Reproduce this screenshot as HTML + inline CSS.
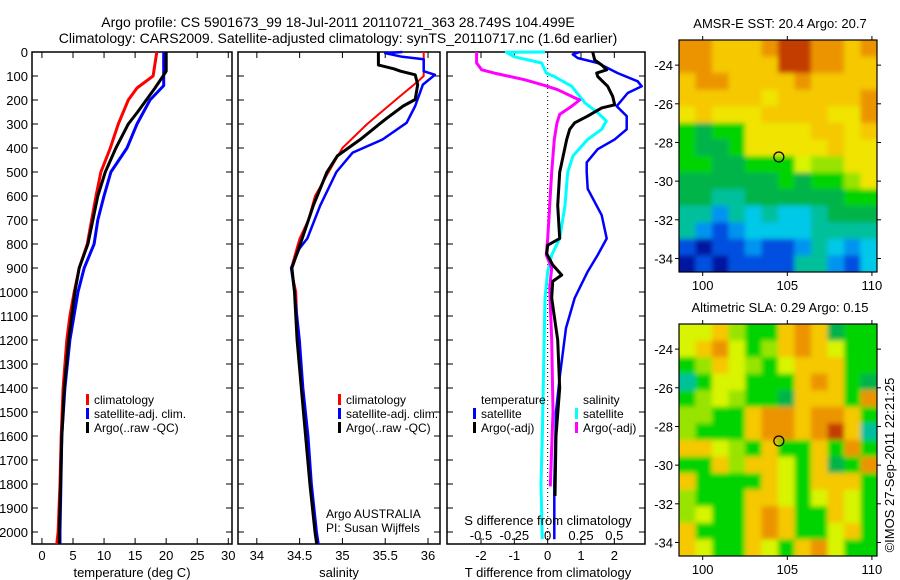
<!DOCTYPE html>
<html><head><meta charset="utf-8">
<style>
html,body{margin:0;padding:0;background:#fff;}
svg{display:block;font-family:"Liberation Sans",sans-serif;}
text{fill:#000;}
</style></head>
<body>
<svg id="chart" width="900" height="580" viewBox="0 0 900 580" xmlns="http://www.w3.org/2000/svg">
<defs>
<filter id="soft" x="-5%" y="-5%" width="110%" height="110%"><feGaussianBlur stdDeviation="2.5"/></filter>
<clipPath id="clipTop"><rect x="679" y="40" width="198" height="232"/></clipPath>
<clipPath id="clipBot"><rect x="679" y="324" width="198" height="232"/></clipPath>
</defs>
<text x="338" y="27" font-size="14" text-anchor="middle">Argo profile: CS 5901673_99 18-Jul-2011 20110721_363 28.749S 104.499E</text>
<text x="338" y="43" font-size="14" text-anchor="middle">Climatology: CARS2009. Satellite-adjusted climatology: synTS_20110717.nc (1.6d earlier)</text>
<g id="g"></g>
</svg>
<script>
// ---------- data ----------
const depthTicks = [0,100,200,300,400,500,600,700,800,900,1000,1100,1200,1300,1400,1500,1600,1700,1800,1900,2000];
const tempTicks = [0,5,10,15,20,25,30];
const salTicks = [34,34.5,35,35.5,36];
const tdiffTicks = [-2,-1,0,1,2];
const sdiffTicks = [-0.5,-0.25,0,0.25,0.5];

const tClimDepth = [0,100,150,200,300,400,500,600,700,800,900,1000,1100,1200,1400,1600,1800,2000,2050];
const tClimVal   = [18.5,17.9,15.3,13.9,12.3,11,9.5,8.7,8,7.3,6,5.2,4.5,4,3.4,3.1,2.9,2.6,2.4];
const tSatDepth  = [0,140,200,300,400,500,600,700,800,900,1000,1200,1400,1600,1800,2000,2050];
const tSatVal    = [19.6,19.6,17.4,15.3,13.7,11.1,10,9,8.4,6.8,5.8,4.5,3.7,3.2,3.05,2.9,2.9];
const tArgoDepth = [0,80,100,150,200,250,300,400,500,600,700,800,900,1000,1200,1400,1600,1800,2000,2050];
const tArgoVal   = [20,20,19.5,18.2,16.8,15.4,13.9,11.9,10.2,9,8.2,7.4,6,5.3,4.3,3.6,3.2,3,2.8,2.8];

const sClimDepth = [0,100,120,200,300,400,500,600,700,777,800,900,1000,1200,1400,1600,1800,2000,2050];
const sClimVal   = [35.95,35.95,35.89,35.62,35.29,35,34.84,34.68,34.6,34.5,34.48,34.4,34.46,34.48,34.53,34.57,34.62,34.68,34.7];
const sSatDepth  = [0,5,20,30,80,95,136,225,295,364,419,500,640,777,818,900,1000,1200,1400,1600,1800,2000,2050];
const sSatVal    = [35.7,35.5,35.7,35.95,35.95,36.08,35.94,35.85,35.75,35.47,35.12,34.93,34.74,34.59,34.5,34.4,34.44,34.5,34.54,34.6,34.64,34.7,34.72];
const sArgoDepth = [0,54,70,80,95,136,198,225,281,364,433,500,640,777,900,1000,1200,1400,1600,1800,2000,2050];
const sArgoVal   = [35.42,35.42,35.6,35.68,35.85,35.88,35.85,35.71,35.5,35.21,34.94,34.82,34.66,34.53,34.41,34.44,34.47,34.52,34.57,34.62,34.68,34.7];

const dTSatDepth = [0,10,25,46,88,122,143,171,226,267,322,364,405,460,501,570,680,777,846,915,1025,1150,1355,1500,1800,2000,2030];
const dTSatVal   = [0.96,0.75,0.9,1.5,2.1,2.7,2.82,2.4,2.07,2.37,2.37,2.01,1.5,1.17,1.17,1.2,1.62,1.77,1.5,1.2,0.81,0.55,0.36,0.25,0.2,0.2,0.2];
const dTArgoDepth = [0,33,54,74,88,102,143,185,220,233,267,295,322,364,501,639,777,805,840,887,929,956,1025,1200,1400,1600,1850];
const dTArgoVal   = [1.35,1.41,1.62,1.77,1.47,1.5,1.8,1.95,2.01,1.62,1.2,0.81,0.66,0.57,0.36,0.3,0.36,0,-0.03,0.15,0.42,0.15,0.12,0.3,0.36,0.25,0.22];
const dSSatDepth = [0,1,20,46,88,102,143,212,253,288,322,364,433,501,639,777,846,915,1025,1300,1600,1800,2030];
const dSSatVal   = [-0.02,-0.31,-0.25,-0.045,-0.01,0.05,0.18,0.28,0.375,0.44,0.405,0.3,0.19,0.15,0.13,0.09,0.03,0,-0.02,-0.03,-0.04,-0.05,-0.04];
const dSArgoDepth = [0,46,74,88,116,140,157,190,200,226,260,295,364,500,639,777,846,900,983,1200,1500,1810];
const dSArgoVal   = [-0.533,-0.533,-0.495,-0.4,-0.17,-0.02,0.075,0.2,0.24,0.18,0.09,0.07,0.05,0.03,0.015,0,-0.01,0.03,0.015,0.03,0.04,0.02];

const mapLonTicks = [100,105,110];
const mapLatTicks = [-24,-26,-28,-30,-32,-34];
const sstRows = [
"OOYYYORROOYO","OOYYYYRROOYY","YOOYYYYOYYYY","YYYYYyYYYYYO","yYyyyYYYYyyO",
"GgGGyyyyYYyY","GggGyyyyyYyy","GGggGGGLllyy","ggggggGgGGly","ggTTggggggGG",
"TTBTCTCCTggg","TBbBCCCCTTTT","bNbbBbbBTCBC","NbNbbbbTTBbC"];
const slaRows = [
"LLYlGGYOYgGG","LYOLGlYOYLGG","GlYLlGLYYYGG","TGLLGGGYOYGg","GlLlGGgYYYGO",
"llGGYOOYOOYG","lGGGYOOYORYT","YYLlGYGGYGOG","GGYlYYLGYgGO","YGGGGYLGYYYG",
"lGGGYYLGLYLG","lLGGYOYGGYLG","YGGGYOYGGLYG","YLGGYLGYOLGG"];
const argoLon = 104.5, argoLat = -28.75;

// ---------- drawing ----------
const NS="http://www.w3.org/2000/svg";
const G=document.getElementById('g');
function el(tag,attrs,parent){const e=document.createElementNS(NS,tag);for(const k in attrs)e.setAttribute(k,attrs[k]);(parent||G).appendChild(e);return e;}
function txt(s,attrs,parent){const e=el('text',attrs,parent);e.textContent=s;return e;}

const TOP=52, BOT=544, DMAX=2050;
const yD = d => TOP + d*(BOT-TOP)/DMAX;
const panels=[
 {name:'temperature-panel',x0:32,x1:232,vmin:-1.6,vmax:30.6},
 {name:'salinity-panel',x0:238,x1:440,vmin:33.78,vmax:36.14},
 {name:'difference-panel',x0:447,x1:645,vmin:-3.02,vmax:2.92}
];
function xf(p){return v=>p.x0+(v-p.vmin)*(p.x1-p.x0)/(p.vmax-p.vmin);}
const xT=xf(panels[0]), xS=xf(panels[1]), xTd=xf(panels[2]);
const xSd = v => xTd(v*4);

panels.forEach(p=>{
  const r=el('rect',{x:p.x0,y:TOP,width:p.x1-p.x0,height:BOT-TOP,fill:'none',stroke:'#000','stroke-width':1.5});
  
  
  depthTicks.forEach(d=>{
    el('line',{x1:p.x0,x2:p.x0+6,y1:yD(d),y2:yD(d),stroke:'#000'});
    el('line',{x1:p.x1,x2:p.x1-6,y1:yD(d),y2:yD(d),stroke:'#000'});
  });
});
depthTicks.forEach(d=>{
  const t=txt(String(d),{x:28,y:yD(d)+5,'font-size':13,'text-anchor':'end'});
  
  
});
function xticks(vals,fx,labelY,fmt){
  vals.forEach(v=>{
    const x=fx(v);
    el('line',{x1:x,x2:x,y1:TOP,y2:TOP+6,stroke:'#000'});
    el('line',{x1:x,x2:x,y1:BOT,y2:BOT-6,stroke:'#000'});
    const t=txt(fmt?fmt(v):String(v),{x:x,y:labelY,'font-size':13,'text-anchor':'middle'});
    
    
  });
}
xticks(tempTicks,xT,560);
xticks(salTicks,xS,560);
xticks(tdiffTicks,xTd,560);
sdiffTicks.forEach(v=>{
  const t=txt(String(v),{x:xSd(v),y:540,'font-size':13,'text-anchor':'middle'});
  
  
});
const zl=el('line',{x1:xTd(0),x2:xTd(0),y1:TOP,y2:BOT,stroke:'#000','stroke-dasharray':'1,3'});



function series(depths,vals,fx,color,w,name){
  const pts=depths.map((d,i)=>fx(vals[i]).toFixed(1)+','+yD(d).toFixed(1)).join(' ');
  const pl=el('polyline',{points:pts,fill:'none',stroke:color,'stroke-width':w,'stroke-linejoin':'round'});
  
  
}
series(tClimDepth,tClimVal,xT,'#ff0000',3,'temperature-climatology-line');
series(tSatDepth,tSatVal,xT,'#0000ff',3,'temperature-satellite-line');
series(tArgoDepth,tArgoVal,xT,'#000000',3,'temperature-argo-line');
series(sClimDepth,sClimVal,xS,'#ff0000',2,'salinity-climatology-line');
series(sSatDepth,sSatVal,xS,'#0000ff',2.5,'salinity-satellite-line');
series(sArgoDepth,sArgoVal,xS,'#000000',3,'salinity-argo-line');
series(dTSatDepth,dTSatVal,xTd,'#0000ff',2.5,'t-diff-satellite-line');
series(dSSatDepth,dSSatVal,xSd,'#00ffff',3,'s-diff-satellite-line');
series(dSArgoDepth,dSArgoVal,xSd,'#ff00ff',3,'s-diff-argo-line');
series(dTArgoDepth,dTArgoVal,xTd,'#000000',3,'t-diff-argo-line');

function legend(x,y,items,name){
  items.forEach((it,i)=>{
    if(it[0]) el('rect',{x:x,y:y+i*14-10,width:3,height:11,fill:it[0]});
    const t=txt(it[1],{x:x+8,y:y+i*14,'font-size':12});
    
    
  });
}
legend(86,404,[['#ff0000','climatology'],['#0000ff','satellite-adj. clim.'],['#000000','Argo(..raw -QC)']],'temperature-legend');
legend(338,404,[['#ff0000','climatology'],['#0000ff','satellite-adj. clim.'],['#000000','Argo(..raw -QC)']],'salinity-legend');
legend(473,404,[[null,'temperature'],['#0000ff','satellite'],['#000000','Argo(-adj)']],'t-diff-legend');
legend(575,404,[[null,'salinity'],['#00ffff','satellite'],['#ff00ff','Argo(-adj)']],'s-diff-legend');

[['Argo AUSTRALIA',326,518],['PI: Susan Wijffels',326,532]].forEach(a=>{
  const t=txt(a[0],{x:a[1],y:a[2],'font-size':12});
  
  
});
[['temperature (deg C)',132],['salinity',339],['T difference from climatology',548]].forEach(a=>{
  const t=txt(a[0],{x:a[1],y:577,'font-size':13,'text-anchor':'middle'});
  
  
});
const sdt=txt('S difference from climatology',{x:548,y:525,'font-size':13,'text-anchor':'middle'});



// ---------- maps ----------
const pal={R:'#c43c00',O:'#eb9400',Y:'#f5c800',y:'#f0e400',L:'#d8f400',l:'#98e400',G:'#00d400',g:'#00b448',T:'#00c09c',C:'#00c8e8',B:'#0094f0',b:'#0050e0',N:'#0018a0'};
function map(rows,top,bot,title,name,clip){
  const x0=679,x1=877,lon0=98.6,lon1=110.3,lat0=-22.7,lat1=-34.7;
  const xm=v=>x0+(v-lon0)*(x1-x0)/(lon1-lon0);
  const ym=v=>top+(v-lat0)*(bot-top)/(lat1-lat0);
  const g=el('g',{});
  
  
  const cg=el('g',{'clip-path':'url(#'+clip+')'},g);
  const fg=el('g',{filter:'url(#soft)'},cg);
  const nr=rows.length,nc=rows[0].length,cw=(x1-x0)/nc,ch=(bot-top)/nr;
  rows.forEach((row,r)=>{for(let c=0;c<nc;c++){
    el('rect',{x:(x0+c*cw-(c==0?8:0)).toFixed(1),y:(top+r*ch-(r==0?8:0)).toFixed(1),width:(cw+0.6+(c==0||c==nc-1?8:0)).toFixed(1),height:(ch+0.6+(r==0||r==nr-1?8:0)).toFixed(1),fill:pal[row[c]]},fg);
  }});
  el('rect',{x:x0,y:top,width:x1-x0,height:bot-top,fill:'none',stroke:'#000','stroke-width':1.2},g);
  mapLatTicks.forEach(v=>{
    el('line',{x1:x0-4,x2:x0,y1:ym(v),y2:ym(v),stroke:'#000'},g);
    el('line',{x1:x1,x2:x1+4,y1:ym(v),y2:ym(v),stroke:'#000'},g);
    txt(String(v),{x:673,y:ym(v)+5,'font-size':13,'text-anchor':'end'},g);
  });
  mapLonTicks.forEach(v=>{
    el('line',{x1:xm(v),x2:xm(v),y1:bot,y2:bot+4,stroke:'#000'},g);
    el('line',{x1:xm(v),x2:xm(v),y1:top,y2:top-4,stroke:'#000'},g);
    txt(String(v),{x:xm(v),y:bot+18,'font-size':13,'text-anchor':'middle'},g);
  });
  const c=el('circle',{cx:xm(argoLon),cy:ym(argoLat),r:5,fill:'none',stroke:'#000','stroke-width':1.2},g);
  
  
  txt(title,{x:780,y:top-12,'font-size':13,'text-anchor':'middle'},g);
}
map(sstRows,40,272,'AMSR-E SST: 20.4 Argo: 20.7','sst-map','clipTop');
map(slaRows,324,556,'Altimetric SLA: 0.29 Argo: 0.15','sla-map','clipBot');
const st=txt('©IMOS 27-Sep-2011 22:21:25',{x:0,y:0,'font-size':13,'text-anchor':'middle',transform:'translate(894,465) rotate(-90)'});


</script>
</body></html>
